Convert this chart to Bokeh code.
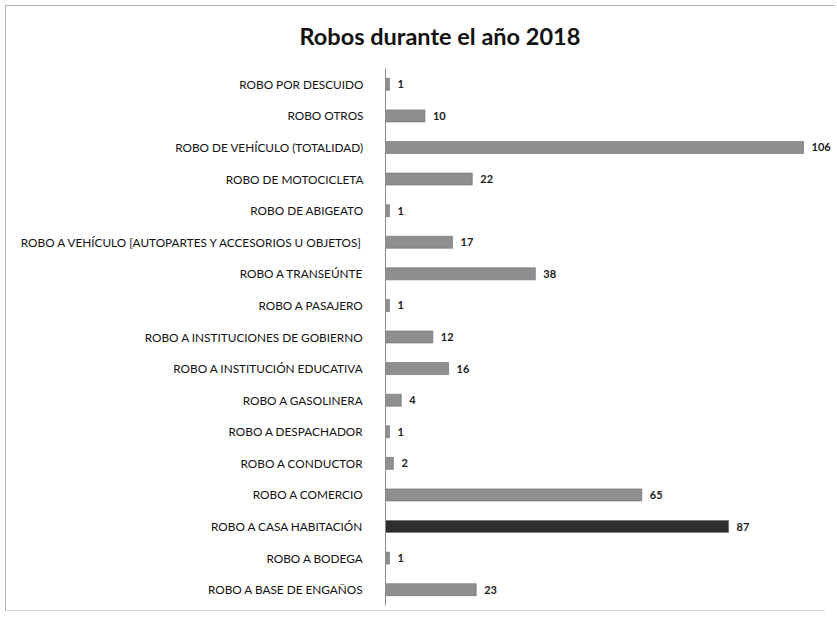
from bokeh.plotting import figure
from bokeh.models import ColumnDataSource, FactorRange, Range1d, Title
from bokeh.core.properties import value
from bokeh.embed import file_html
from bokeh.resources import INLINE

title_text = "Robos durante el año 2018"

# top to bottom as shown
categories = [
    "ROBO POR DESCUIDO",
    "ROBO OTROS",
    "ROBO DE VEHÍCULO (TOTALIDAD)",
    "ROBO DE MOTOCICLETA",
    "ROBO DE ABIGEATO",
    "ROBO A VEHÍCULO [AUTOPARTES Y ACCESORIOS U OBJETOS]",
    "ROBO A TRANSEÚNTE",
    "ROBO A PASAJERO",
    "ROBO A INSTITUCIONES DE GOBIERNO",
    "ROBO A INSTITUCIÓN EDUCATIVA",
    "ROBO A GASOLINERA",
    "ROBO A DESPACHADOR",
    "ROBO A CONDUCTOR",
    "ROBO A COMERCIO",
    "ROBO A CASA HABITACIÓN",
    "ROBO A BODEGA",
    "ROBO A BASE DE ENGAÑOS",
]
counts = [1, 10, 106, 22, 1, 17, 38, 1, 12, 16, 4, 1, 2, 65, 87, 1, 23]

W, H = 837, 618
LEFT, TOP, BOTTOM, RIGHT = 385, 68, 13, 0

colors = ["#2e2e2e" if c == "ROBO A CASA HABITACIÓN" else "#8f8f8f" for c in categories]
source = ColumnDataSource(dict(cat=categories, val=counts, lab=[str(v) for v in counts], col=colors))

frame_w = W - LEFT - RIGHT
xmax = frame_w / (418 / 106)

p = figure(width=W, height=H, output_backend="svg", toolbar_location=None,
           y_range=FactorRange(factors=list(reversed(categories)), range_padding=0),
           x_range=Range1d(0, xmax),
           min_border_left=LEFT, min_border_right=RIGHT, min_border_top=TOP,
           min_border_bottom=BOTTOM)

p.hbar(y="cat", right="val", left=0, height=0.38, source=source,
       fill_color="col", line_color="#6a6a6a", line_width=0.6)
p.text(x="val", y="cat", text="lab", source=source, x_offset=8,
       text_align="left", text_baseline="middle", text_font=value("Lato"),
       text_font_size="11px", text_font_style="bold", text_color="#1a1a1a")

p.xaxis.visible = False
p.xgrid.visible = False
p.ygrid.visible = False
p.outline_line_color = None

ax = p.yaxis[0]
ax.axis_line_color = "#8a8a8a"
ax.axis_line_width = 1
ax.major_tick_line_color = None
ax.minor_tick_line_color = None
ax.major_label_standoff = 16
ax.major_label_text_font = "Lato"
ax.major_label_text_font_size = "11.8px"
ax.major_label_text_color = "#111111"

p.add_layout(Title(text=title_text, align="left", offset=-86, standoff=38,
                   text_font="Lato", text_font_size="23.5px", text_font_style="bold",
                   text_color="#111111"), "above")

# faint scanned frame around the chart (drawn as page background behind a transparent canvas)
p.border_fill_color = None
p.background_fill_color = "white"
p.styles = {
    "background-color": "white",
    "background-image": ("linear-gradient(#b5b5b5,#b5b5b5), linear-gradient(#b5b5b5,#b5b5b5), "
                         "linear-gradient(#d8d8d8,#d8d8d8)"),
    "background-size": "830px 1px, 1px 606px, 820px 1px",
    "background-position": "5px 5px, 5px 5px, 5px 610px",
    "background-repeat": "no-repeat",
}

open("out.html", "w").write(file_html(p, INLINE))
